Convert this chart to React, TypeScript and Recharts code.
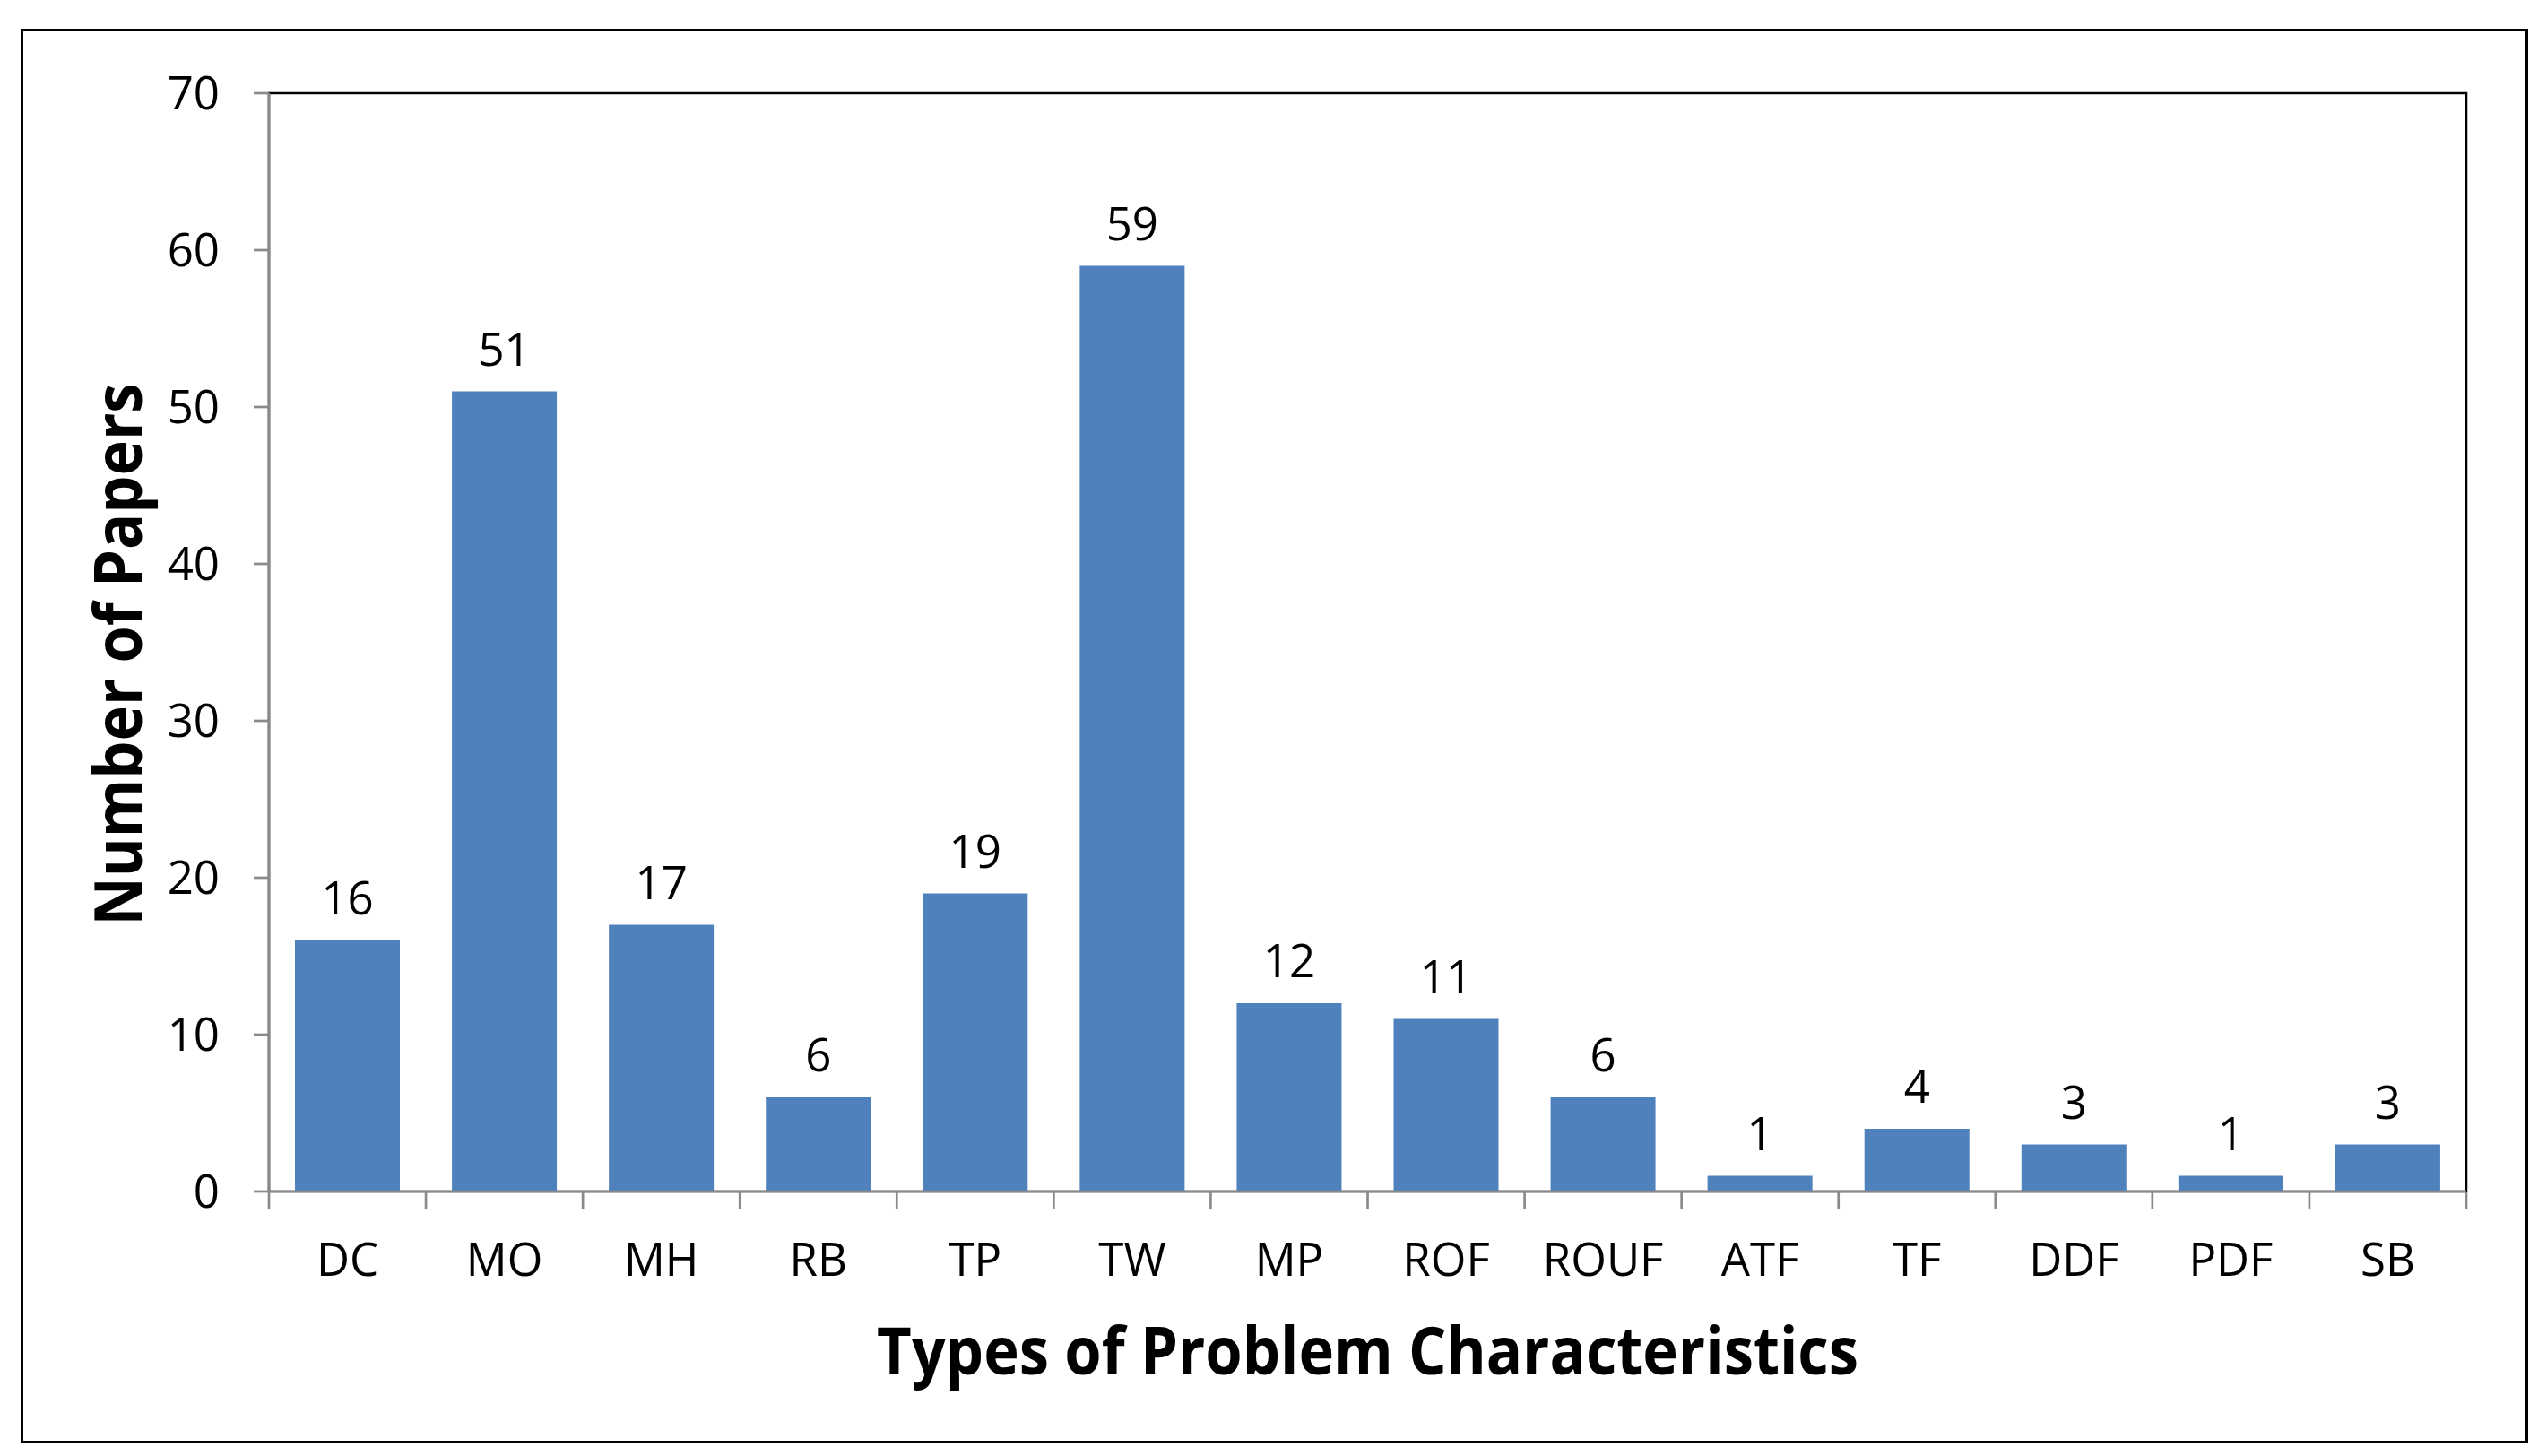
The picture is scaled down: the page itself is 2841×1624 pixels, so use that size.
import React from 'react';
import { BarChart, Bar, XAxis, YAxis, LabelList, ReferenceArea, Label } from 'recharts';

const categories = ['DC', 'MO', 'MH', 'RB', 'TP', 'TW', 'MP', 'ROF', 'ROUF', 'ATF', 'TF', 'DDF', 'PDF', 'SB'];
const paperCounts = [16, 51, 17, 6, 19, 59, 12, 11, 6, 1, 4, 3, 1, 3];
const yTicks = [0, 10, 20, 30, 40, 50, 60, 70];
const xTitle = 'Types of Problem Characteristics';
const yTitle = 'Number of Papers';

const data = categories.map((c, i) => ({ category: c, papers: paperCounts[i] }));

const W = 2841;
const H = 1624;
const MARGIN = { top: 104, right: 90, bottom: 0, left: 0 };
const Y_AXIS_W = 300;
const X_AXIS_H = 295;
const PLOT_W = W - MARGIN.left - MARGIN.right - Y_AXIS_W;
const BAND = PLOT_W / categories.length;
const BAR_W = 117;
const FONT = '"Open Sans", "Noto Sans", sans-serif';
const AXIS_GRAY = '#8a8a8a';
const AXIS_SW = 2.7;

const XTick = (props: any) => {
  const { x, y, payload } = props;
  const idx = props.index ?? payload?.index ?? 0;
  const half = BAND / 2;
  const last = idx === categories.length - 1;
  return (
    <g>
      <line x1={x - half} x2={x - half} y1={y} y2={y + 19} stroke={AXIS_GRAY} strokeWidth={AXIS_SW} />
      {last && <line x1={x + half} x2={x + half} y1={y} y2={y + 19} stroke={AXIS_GRAY} strokeWidth={AXIS_SW} />}
      <text x={x} y={y + 94} textAnchor="middle" fontFamily={FONT} fontSize={51} fill="#000">
        {payload.value}
      </text>
    </g>
  );
};

const renderXTitle = (props: any) => {
  const vb = props.viewBox || {};
  return (
    <text
      x={vb.x + vb.width / 2}
      y={vb.y + 204}
      textAnchor="middle"
      fontFamily={FONT}
      fontWeight="bold"
      fontSize={74}
      fill="#000"
      textLength={1095}
      lengthAdjust="spacingAndGlyphs"
    >
      {xTitle}
    </text>
  );
};

const renderYTitle = (props: any) => {
  const vb = props.viewBox || {};
  const cx = vb.x + 158;
  const cy = vb.y + vb.height / 2 + (730 - (104 + 1225 / 2));
  return (
    <text
      x={cx}
      y={cy}
      textAnchor="middle"
      fontFamily={FONT}
      fontWeight="bold"
      fontSize={74}
      fill="#000"
      textLength={605}
      lengthAdjust="spacingAndGlyphs"
      transform={`rotate(-90, ${cx}, ${cy})`}
    >
      {yTitle}
    </text>
  );
};

export default function App() {
  return (
    <div style={{ position: 'absolute', left: 0, top: 0, width: W, height: H, background: '#fff' }}>
      <div
        style={{
          position: 'absolute',
          left: 23,
          top: 32,
          width: 2797,
          height: 1578,
          border: '3px solid #000',
          boxSizing: 'border-box',
        }}
      />
      <div style={{ position: 'absolute', left: 0, top: 0 }}>
        <BarChart width={W} height={H} data={data} margin={MARGIN} barSize={BAR_W}>
          <ReferenceArea
            yAxisId="left"
            y1={0}
            y2={70}
            fill="none"
            fillOpacity={0}
            stroke="#000"
            strokeWidth={2.5}
          />
          <XAxis
            dataKey="category"
            height={X_AXIS_H}
            interval={0}
            tickSize={0}
            tickMargin={0}
            tickLine={false}
            axisLine={{ stroke: AXIS_GRAY, strokeWidth: AXIS_SW }}
            tick={<XTick />}
          >
            <Label content={renderXTitle} />
          </XAxis>
          <YAxis
            yAxisId="left"
            width={Y_AXIS_W}
            domain={[0, 70]}
            ticks={yTicks}
            interval={0}
            tickSize={17}
            tickMargin={38}
            tick={{ fontFamily: FONT, fontSize: 51, fill: '#000' }}
            tickLine={{ stroke: AXIS_GRAY, strokeWidth: AXIS_SW }}
            axisLine={{ stroke: AXIS_GRAY, strokeWidth: AXIS_SW }}
          >
            <Label content={renderYTitle} />
          </YAxis>
          <Bar yAxisId="left" dataKey="papers" fill="#4F81BD" barSize={BAR_W} isAnimationActive={false}>
            <LabelList
              dataKey="papers"
              position="top"
              offset={29}
              fill="#000"
              fontFamily={FONT}
              fontSize={51}
            />
          </Bar>
        </BarChart>
      </div>
    </div>
  );
}
